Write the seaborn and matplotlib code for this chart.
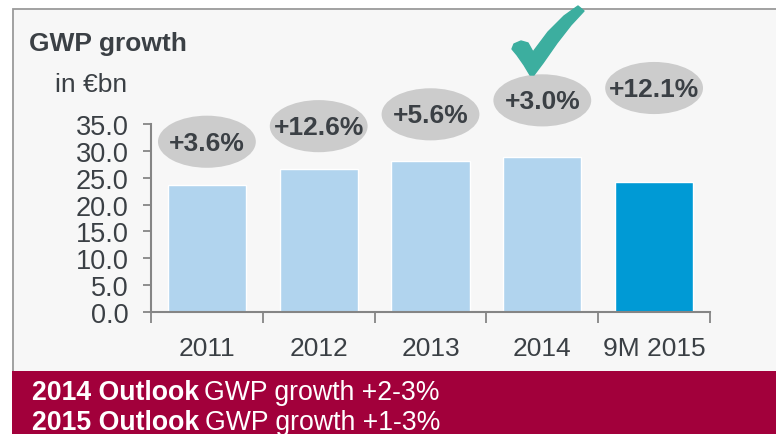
import matplotlib
matplotlib.use("Agg")
import matplotlib.pyplot as plt
from matplotlib.patches import Ellipse, Rectangle, Polygon
import seaborn as sns
import pandas as pd

# Chart data
years = ["2011", "2012", "2013", "2014", "9M 2015"]
gwp = [23.6, 26.6, 28.1, 28.9, 24.2]
growth_labels = ["+3.6%", "+12.6%", "+5.6%", "+3.0%", "+12.1%"]
outlook_years = ["2014 Outlook", "2015 Outlook"]
outlook_texts = ["GWP growth +2-3%", "GWP growth +1-3%"]

# Layout: height of the growth bubbles (in axis units), rising left to right
bubble_y = [31.7, 34.6, 36.8, 39.4, 41.7]

bar_colors = ["#b1d4ee", "#b1d4ee", "#b1d4ee", "#b1d4ee", "#009ad5"]
text_color = "#3b4045"
W, H = 776, 435

# outline of the tick-mark icon, in picture pixels from top-left
check_px = [(530, 76), (524, 66), (517, 56), (512, 50), (514, 45), (521, 42),
            (528, 44), (533, 53), (548, 33), (564, 17), (578, 7), (584, 12),
            (571, 26), (557, 44), (543, 64), (534, 76)]

sns.set_style("white")
plt.rcParams["font.family"] = ["Liberation Sans", "DejaVu Sans"]

fig = plt.figure(figsize=(W / 100, H / 100), dpi=100)
fig.patch.set_facecolor("white")

# Panel background and bottom band (behind the axes)
fig.add_artist(Rectangle((13 / W, 0), 1, 1 - 10 / H, transform=fig.transFigure,
                         facecolor="#f7f7f7", edgecolor="#9a9a9a", lw=1.3,
                         zorder=-10))
fig.add_artist(Rectangle((12 / W, 0), 1, 63 / H, transform=fig.transFigure,
                         facecolor="#a2003b", edgecolor="none", zorder=-9))

ax = fig.add_axes([151 / W, (H - 313) / H, (710 - 151) / W, (313 - 125) / H])
ax.set_facecolor("none")

df = pd.DataFrame({"year": years, "gwp": gwp})
sns.barplot(data=df, x="year", y="gwp", hue="year", palette=bar_colors,
            width=0.7, legend=False, ax=ax, saturation=1)

ax.set_xlim(-0.5, 4.5)
ax.set_ylim(0, 35)
ax.set_yticks([0, 5, 10, 15, 20, 25, 30, 35])
ax.set_yticklabels([f"{v:.1f}" for v in ax.get_yticks()])
ax.set_xticks(range(len(years)))
ax.set_xticks([i - 0.5 for i in range(len(years) + 1)], minor=True)
ax.set_xlabel("")
ax.set_ylabel("")

for s in ["top", "right"]:
    ax.spines[s].set_visible(False)
for s in ["left", "bottom"]:
    ax.spines[s].set_color("#858585")
    ax.spines[s].set_linewidth(1.5)

ax.tick_params(axis="y", length=6, width=1.3, color="#858585", direction="out",
               labelsize=19.5, labelcolor=text_color, pad=10, left=True)
ax.tick_params(axis="x", which="major", length=0, labelsize=19,
               labelcolor=text_color, pad=17)
ax.tick_params(axis="x", which="minor", length=8, width=1.3, color="#858585",
               direction="out", bottom=True)

# Growth bubbles
for i, (lab, yb) in enumerate(zip(growth_labels, bubble_y)):
    ax.add_patch(Ellipse((i, yb), 0.875, 9.7, facecolor="#cccccc",
                         edgecolor="none", clip_on=False, zorder=3))
    ax.text(i, yb - 0.2, lab, ha="center", va="center", fontsize=19,
            fontweight="bold", color=text_color, zorder=4, clip_on=False)

# Checkmark above 2014
fig.add_artist(Polygon([(x / W, 1 - y / H) for x, y in check_px], closed=True,
                       transform=fig.transFigure, facecolor="#3cae9f",
                       edgecolor="#3cae9f", lw=1, joinstyle="round", zorder=5))

# Titles
fig.text(29 / W, 1 - 51 / H, "GWP growth", fontsize=19, fontweight="bold",
         color=text_color, va="baseline")
fig.text(55 / W, 1 - 92 / H, "in \u20acbn", fontsize=19,
         color=text_color, va="baseline")

# Outlook lines
fig.canvas.draw()
renderer = fig.canvas.get_renderer()
for k, (a, b) in enumerate(zip(outlook_years, outlook_texts)):
    yb = 1 - (400 + 30 * k) / H
    t = fig.text(32 / W, yb, a, fontsize=19.2, fontweight="bold",
                 color="white", va="baseline")
    x1 = t.get_window_extent(renderer).x1
    fig.text((x1 + 5.5) / W, yb, b, fontsize=19.2, color="white", va="baseline")

fig.savefig("out.png", dpi=100)
